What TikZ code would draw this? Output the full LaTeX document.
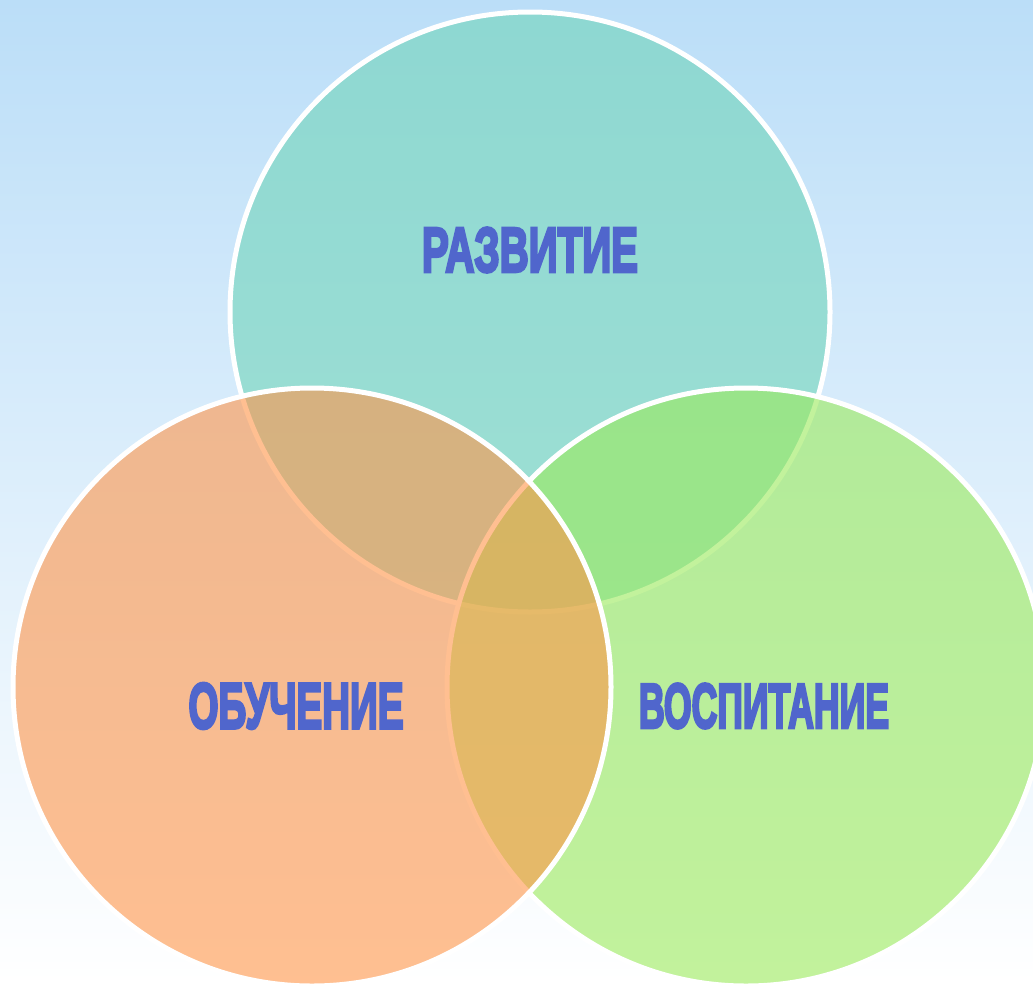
\documentclass[tikz,border=0pt]{standalone}
\usepackage{fontspec}
\usepackage{graphicx}
\newfontfamily\heavy{Liberation Sans}[BoldFeatures={FakeBold=5}]
\definecolor{bgtop}{RGB}{187,222,248}
\definecolor{tealfill}{RGB}{112,212,185}
\definecolor{orangefill}{RGB}{255,149,73}
\definecolor{greenfill}{RGB}{154,234,90}
\definecolor{txtblue}{RGB}{80,102,204}
\begin{document}
\begin{tikzpicture}[x=1pt,y=-1pt,
  circ/.style={fill opacity=0.6, draw=white, draw opacity=1, line width=5pt},
  word/.style={inner sep=0pt, text=txtblue, font=\heavy\bfseries}]
\useasboundingbox (0,0) rectangle (1033,983);
\clip (0,0) rectangle (1033,983);
\shade[top color=bgtop, bottom color=white] (0,0) rectangle (1033,983);
\path[circ, fill=tealfill] (530,312) circle[radius=300];
\path[circ, fill=greenfill] (746,687) circle[radius=299];
\path[circ, fill=orangefill] (312,687) circle[radius=299];
\node[word] (razvitie) at (530,250) {\resizebox{216pt}{44pt}{РАЗВИТИЕ}};
\node[word] (obuchenie) at (296,706) {\resizebox{215pt}{45pt}{ОБУЧЕНИЕ}};
\node[word] (vospitanie) at (764,706) {\resizebox{250pt}{44pt}{ВОСПИТАНИЕ}};
\end{tikzpicture}
\end{document}
